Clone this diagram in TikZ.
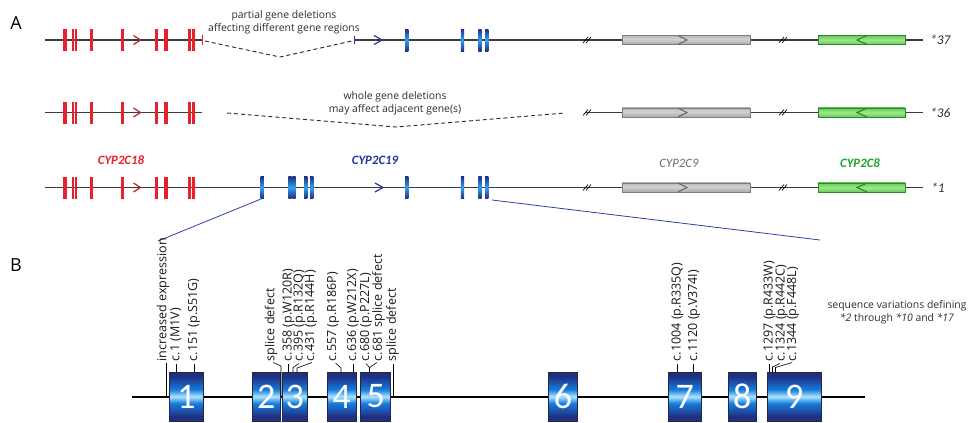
\documentclass[tikz,border=0pt]{standalone}
\usepackage{fontspec}
\setmainfont{Open Sans}
\newfontfamily\calfont{Carlito}
\usetikzlibrary{calc}

% colours
\definecolor{exred}{RGB}{232,32,44}
\definecolor{chevred}{RGB}{180,40,45}
\definecolor{cypblue}{RGB}{40,50,160}
\definecolor{cypgray}{RGB}{110,110,110}
\definecolor{cypgreen}{RGB}{30,165,45}
\definecolor{axis}{RGB}{60,60,60}
\definecolor{linkblue}{RGB}{45,65,165}
\definecolor{note}{RGB}{45,45,45}
\definecolor{exBot}{RGB}{26,32,84}
\definecolor{exNavy}{RGB}{32,48,130}
\definecolor{exBlue}{RGB}{22,125,222}
\definecolor{exLight}{RGB}{175,228,255}
\definecolor{exMid}{RGB}{50,160,240}
\definecolor{exTop}{RGB}{66,66,86}
\definecolor{exEdge}{RGB}{38,40,66}
\definecolor{gbA}{RGB}{150,150,150}
\definecolor{gbB}{RGB}{182,182,182}
\definecolor{gbC}{RGB}{210,210,210}
\definecolor{gbD}{RGB}{105,105,105}
\definecolor{gbE}{RGB}{125,125,125}
\definecolor{grB}{RGB}{85,195,75}
\definecolor{grC}{RGB}{160,230,140}
\definecolor{grD}{RGB}{45,135,45}

% exon and gene-bar shadings
\pgfdeclareverticalshading{bigexon}{100bp}{color(0bp)=(exBot); color(14bp)=(exNavy); color(30bp)=(exNavy); color(43bp)=(exBlue); color(50bp)=(exLight); color(57bp)=(exBlue); color(70bp)=(exNavy); color(86bp)=(exNavy); color(100bp)=(exTop)}
\pgfdeclareverticalshading{smallexon}{100bp}{color(0bp)=(exBot); color(25bp)=(exNavy); color(50bp)=(exMid); color(75bp)=(exNavy); color(100bp)=(exBot)}
\pgfdeclareverticalshading{graybar}{100bp}{color(0bp)=(gbA); color(35bp)=(gbB); color(55bp)=(gbC); color(76bp)=(gbB); color(84bp)=(gbD); color(100bp)=(gbD)}
\pgfdeclareverticalshading{greenbar}{100bp}{color(0bp)=(grD); color(18bp)=(grB); color(50bp)=(grC); color(82bp)=(grB); color(100bp)=(grD)}

\newcommand\notefont{\fontsize{7.8}{9.8}\selectfont}
\newcommand\vlabfont{\fontsize{9.4}{10}\selectfont}

\begin{document}
\begin{tikzpicture}[x=0.75pt,y=-0.75pt,
  backbone/.style={axis, line width=0.9pt},
  chev/.style={line width=0.9pt},
  breakmark/.style={black, line width=0.5pt},
  gapline/.style={note, line width=0.7pt, dash pattern=on 3pt off 2.2pt},
  link/.style={linkblue, line width=0.6pt},
  leader/.style={black, line width=0.45pt},
  panel/.style={font=\fontsize{13.5}{14}\selectfont, inner sep=0pt},
  genename/.style={font=\calfont\fontsize{9.6}{10}\selectfont\bfseries\itshape, inner sep=0pt},
  allele/.style={font=\calfont\fontsize{10}{11}\selectfont\itshape, text=note, anchor=west, inner sep=0pt},
  annot/.style={font=\notefont, text=note, align=center, inner sep=0pt},
  vlabel/.style={font=\vlabfont, rotate=90, anchor=west, inner sep=0.4pt, text=black!90},
  bexon/.style={shade, shading=bigexon, draw=exEdge, line width=0.4pt,
    minimum height=49*0.75pt, inner sep=0pt, text=white,
    font=\calfont\fontsize{27}{27}\selectfont},
]
\useasboundingbox (0,0) rectangle (971,422);

% ---------------- panel A ----------------
\node[panel] (labA) at (16,23) {A};

% backbones of the three haplotypes
\draw[backbone] (45,40) -- (202,40);
\draw[backbone] (354,40) -- (923,40);
\draw[backbone] (45,112.5) -- (202,112.5);
\draw[backbone] (585,112.5) -- (923,112.5);
\draw[backbone] (45,187.5) -- (923,187.5);

% deletion breakpoints and gaps
\draw[exred, line width=0.5pt] (202,35) -- (202,45);
\draw[cypblue, line width=0.5pt] (354,36) -- (354,44);
\draw[gapline] (205,41) -- (280,57) -- (352,41);
\draw[gapline] (227,113) -- (396,127) -- (565,113);

% CYP2C18 exons (all rows)
\foreach \y in {40,112.5,187.5}{
  \foreach \x/\w in {65/3.4, 72.9/2.3, 75.9/1.7, 91.8/3.3, 122.8/3.3, 156.8/3.3, 166/3.3, 189.5/2.4, 193.6/2.4}
    \fill[exred] ({\x-\w/2},{\y-11}) rectangle ({\x+\w/2},{\y+11});
  \draw[chev, chevred] (133.5,\y-4.5) -- (140.5,\y) -- (133.5,\y+4.5);
}

% CYP2C19 exons
\foreach \x in {262.2, 290, 294, 305.7, 311.7, 406.7, 462.5, 480, 486.7}
  \shade[shading=smallexon] ({\x-1.7},176.5) rectangle ({\x+1.7},198.5);
\foreach \x in {406.7, 462.5, 480, 486.7}
  \shade[shading=smallexon] ({\x-1.7},29) rectangle ({\x+1.7},51);
\draw[chev, cypblue] (375,183) -- (383,187.5) -- (375,192);
\draw[chev, cypblue] (374,35.5) -- (382,40) -- (374,44.5);

% CYP2C9 and CYP2C8 bars, break marks
\foreach \y in {40,112.5,187.5}{
  \shade[shading=graybar, draw=gbE, line width=0.4pt] (622,\y-4.7) rectangle (750,\y+4.7);
  \draw[gbD, line width=0.8pt] (678,\y-4.4) -- (687,\y) -- (678,\y+4.4);
  \shade[shading=greenbar, draw=grD, line width=0.4pt] (818,\y-4.6) rectangle (905,\y+4.6);
  \draw[grD, line width=0.8pt] (867,\y-4.4) -- (857,\y) -- (867,\y+4.4);
  \foreach \b in {588,784}{
    \draw[breakmark] (\b-5,\y+3) -- (\b,\y-3);
    \draw[breakmark] (\b-2,\y+3) -- (\b+3,\y-3);
  }
}

% annotations
\node[annot] (partial) at (284,22.5) {partial gene deletions\\affecting different gene regions};
\node[annot] (whole) at (395,103) {whole gene deletions\\may affect adjacent gene(s)};

\node[genename, text=exred] (g18) at (121,160) {CYP2C18};
\node[genename, text=cypblue] (g19) at (375,160) {CYP2C19};
\node[genename, text=cypgray, font=\calfont\fontsize{9.6}{10}\selectfont\itshape] (g9) at (679,163) {CYP2C9};
\node[genename, text=cypgreen] (g8) at (860,163) {CYP2C8};

\node[allele] (a37) at (930,40) {*37};
\node[allele] (a36) at (930,112.5) {*36};
\node[allele] (a1) at (931,187.5) {*1};

% zoom connectors
\coordinate (cypStart) at (262.2,198.5);
\coordinate (cypEnd) at (492,200);
\coordinate (zoomL) at (158,241);
\coordinate (zoomR) at (820,240);
\draw[link] (cypStart) -- (zoomL);
\draw[link] (cypEnd) -- (zoomR);

% ---------------- panel B ----------------
\node[panel] (labB) at (16,265) {B};

\draw[black, line width=1.1pt] (132,397) -- (865,397);

\foreach \n/\l/\r in {1/169.3/203.5, 2/252.7/279.8, 3/282.5/306.8, 4/327.5/356, 5/360.7/390.7,
                      6/548.5/577.3, 7/668.3/701, 8/728.3/756, 9/767.7/821}
  \node[bexon, minimum width={(\r-\l)*0.75pt}] (ex\n) at ({(\l+\r)/2},396.5) {\n};

% leaders
\draw[leader] (166,397) -- (166,363);
\draw[leader] (176,372) -- (176,363.5);
\draw[leader] (194,372) -- (194,363.5);
\draw[leader] (281,397) -- (281,366) -- (273,362.5);
\draw[leader] (288.5,372) -- (288.5,363.5);
\draw[leader] (293,372) -- (293,367.5) -- (299,363.5);
\draw[leader] (297,372) -- (297,368) -- (312,362.5);
\draw[leader] (341,372) -- (341,368) -- (335.5,363);
\draw[leader] (353,372) -- (353,363.5);
\draw[leader] (369.5,372) -- (369.5,367.5) -- (366,363.5);
\draw[leader] (369.5,367.5) -- (377,362.5);
\draw[leader] (393.5,397) -- (393.5,363.5);
\draw[leader] (677,372) -- (677,363.5);
\draw[leader] (693,372) -- (693,363.5);
\draw[leader] (769.5,372) -- (769.5,363.5);
\draw[leader] (772.5,372) -- (772.5,367) -- (780,363.5);
\draw[leader] (775.5,372) -- (775.5,367.5) -- (792,362.5);

% variant labels
\node[vlabel] (v1)  at (163,362) {increased expression};
\node[vlabel] (v2)  at (176,362) {c.1 (M1V)};
\node[vlabel] (v3)  at (194,362) {c.151 (p.S51G)};
\node[vlabel] (v4)  at (271,362) {splice defect};
\node[vlabel] (v5)  at (288.5,362) {c.358 (p.W120R)};
\node[vlabel] (v6)  at (299.5,362) {c.395 (p.R132Q)};
\node[vlabel] (v7)  at (311,362) {c.431 (p.R144H)};
\node[vlabel] (v8)  at (333,362) {c.557 (p.R186P)};
\node[vlabel] (v9)  at (353,362) {c.636 (p.W212X)};
\node[vlabel] (v10) at (366,362) {c.680 (p.P227L)};
\node[vlabel] (v11) at (378.5,362) {c.681 splice defect};
\node[vlabel] (v12) at (392.5,362) {splice defect};
\node[vlabel] (v13) at (677.5,362) {c.1004 (p.R335Q)};
\node[vlabel] (v14) at (694,362) {c.1120 (p.V374I)};
\node[vlabel] (v15) at (769.5,362) {c.1297 (p.R433W)};
\node[vlabel] (v16) at (781.5,362) {c.1324 (p.R442C)};
\node[vlabel] (v17) at (793,362) {c.1344 (p.F448L)};

\node[annot] (seqvar) at (897,312) {sequence variations defining\\\textit{*2} through \textit{*10} and \textit{*17}};
\end{tikzpicture}
\end{document}
